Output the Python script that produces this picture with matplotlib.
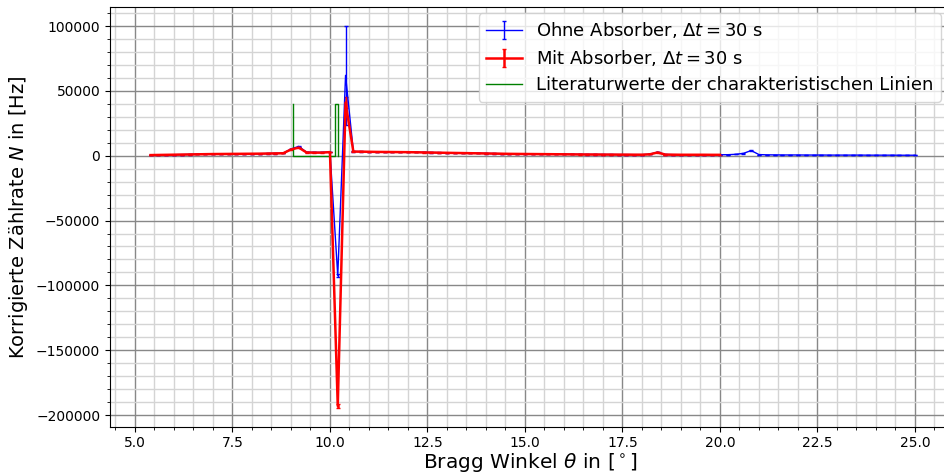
import matplotlib
matplotlib.use("Agg")
import matplotlib.pyplot as plt
import numpy as np
from matplotlib.ticker import AutoMinorLocator

# Bragg angles (deg), measured every 0.2 deg
theta_ohne = [5.4, 5.6, 5.8, 6.0, 6.2, 6.4, 6.6, 6.8, 7.0, 7.2,
              7.4, 7.6, 7.8, 8.0, 8.2, 8.4, 8.6, 8.8, 9.0, 9.2,
              9.4, 9.6, 9.8, 10.0, 10.2, 10.4, 10.6, 10.8, 11.0, 11.2,
              11.4, 11.6, 11.8, 12.0, 12.2, 12.4, 12.6, 12.8, 13.0, 13.2,
              13.4, 13.6, 13.8, 14.0, 14.2, 14.4, 14.6, 14.8, 15.0, 15.2,
              15.4, 15.6, 15.8, 16.0, 16.2, 16.4, 16.6, 16.8, 17.0, 17.2,
              17.4, 17.6, 17.8, 18.0, 18.2, 18.4, 18.6, 18.8, 19.0, 19.2,
              19.4, 19.6, 19.8, 20.0, 20.2, 20.4, 20.6, 20.8, 21.0, 21.2,
              21.4, 21.6, 21.8, 22.0, 22.2, 22.4, 22.6, 22.8, 23.0, 23.2,
              23.4, 23.6, 23.8, 24.0, 24.2, 24.4, 24.6, 24.8, 25.0]
N_ohne = [500, 600, 700, 800, 900, 1000, 1100, 1200, 1300, 1350,
          1400, 1450, 1500, 1550, 1600, 1700, 1800, 2000, 5200, 7200,
          2700, 2600, 2600, 3000, -92500, 62000, 3300, 3200, 3100, 3000,
          2950, 2900, 2850, 2800, 2700, 2600, 2500, 2400, 2300, 2200,
          2100, 2000, 1900, 1800, 1700, 1600, 1500, 1450, 1400, 1350,
          1300, 1250, 1200, 1150, 1100, 1050, 1000, 1000, 950, 950,
          900, 900, 850, 850, 1200, 2800, 950, 850, 800, 800,
          800, 800, 750, 750, 800, 1100, 1800, 4000, 900, 700,
          650, 600, 600, 600, 550, 550, 550, 500, 500, 500,
          500, 500, 450, 450, 450, 450, 400, 400, 400]
err_ohne = [40, 40, 50, 50, 50, 60, 60, 60, 70, 70,
            70, 70, 70, 70, 80, 80, 80, 90, 200, 300,
            100, 100, 100, 120, 1000, 38000, 130, 130, 120, 120,
            120, 120, 110, 110, 110, 100, 100, 100, 100, 90,
            90, 90, 80, 80, 80, 80, 70, 70, 70, 70,
            70, 60, 60, 60, 60, 50, 50, 50, 50, 50,
            50, 50, 50, 50, 60, 120, 50, 50, 40, 40,
            40, 40, 40, 40, 40, 50, 80, 150, 50, 40,
            40, 40, 40, 40, 30, 30, 30, 30, 30, 30,
            30, 30, 30, 30, 30, 30, 30, 30, 30]

theta_mit = theta_ohne[:74]
N_mit = [500, 600, 700, 800, 900, 1000, 1100, 1200, 1300, 1350,
         1400, 1450, 1500, 1550, 1600, 1700, 1800, 1900, 4800, 6300,
         2500, 2400, 2400, 2800, -193000, 41000, 3200, 3150, 3050, 2950,
         2900, 2850, 2800, 2750, 2650, 2550, 2450, 2350, 2250, 2150,
         2050, 1950, 1850, 1750, 1650, 1550, 1450, 1400, 1350, 1300,
         1250, 1200, 1150, 1100, 1050, 1000, 950, 950, 900, 900,
         850, 850, 800, 800, 1100, 2500, 900, 800, 750, 750,
         750, 750, 700, 700]
err_mit = [40, 40, 50, 50, 50, 60, 60, 60, 70, 70,
           70, 70, 70, 70, 80, 80, 80, 90, 200, 250,
           100, 100, 100, 120, 1500, 4000, 130, 130, 120, 120,
           120, 120, 110, 110, 110, 100, 100, 100, 100, 90,
           90, 90, 80, 80, 80, 80, 70, 70, 70, 70,
           70, 60, 60, 60, 60, 50, 50, 50, 50, 50,
           50, 50, 50, 50, 60, 120, 50, 50, 40, 40,
           40, 40, 40, 40]

# literature lines (Mo K_beta, K_alpha1, K_alpha2)
lit_theta = [9.04, 9.04, 10.14, 10.14, 10.20, 10.20]
lit_N = [40000, 0, 0, 40000, 40000, 0]

fig = plt.figure(figsize=(9.44, 4.75), dpi=100)
ax = fig.add_axes([110/944, 48/475, 841/944, 420/475])

h1 = ax.errorbar(theta_ohne, N_ohne, yerr=err_ohne, color="b", lw=1, elinewidth=1,
                 capsize=1.5, label=r"Ohne Absorber, $\Delta t = 30$ s")
h2 = ax.errorbar(theta_mit, N_mit, yerr=err_mit, color="r", lw=1.8, elinewidth=1.8,
                 capsize=1.5, label=r"Mit Absorber, $\Delta t = 30$ s")
h3, = ax.plot(lit_theta, lit_N, color="g", lw=1,
              label="Literaturwerte der charakteristischen Linien")

ax.set_xlim(4.36, 4.36 + 841/39)
ax.xaxis.set_minor_locator(AutoMinorLocator(5))
ax.yaxis.set_minor_locator(AutoMinorLocator(5))
ax.grid(which="major", color="#888888", lw=1)
ax.grid(which="minor", color="#d4d4d4", lw=1)
ax.set_axisbelow(True)
ax.tick_params(labelsize=10)
ax.tick_params(axis="x", pad=3)

ax.set_xlabel(r"Bragg Winkel $\theta$ in [$^\circ$]", fontsize=14.5, labelpad=1)
ax.set_ylabel(r"Korrigierte Zählrate $N$ in [Hz]", fontsize=14)

ax.legend(handles=[h1, h2, h3], loc="upper right", bbox_to_anchor=(950/944, 1 - 4/475),
          bbox_transform=fig.transFigure, fontsize=13, labelspacing=0.45,
          handlelength=2.0)

fig.savefig("out.png", dpi=100)
